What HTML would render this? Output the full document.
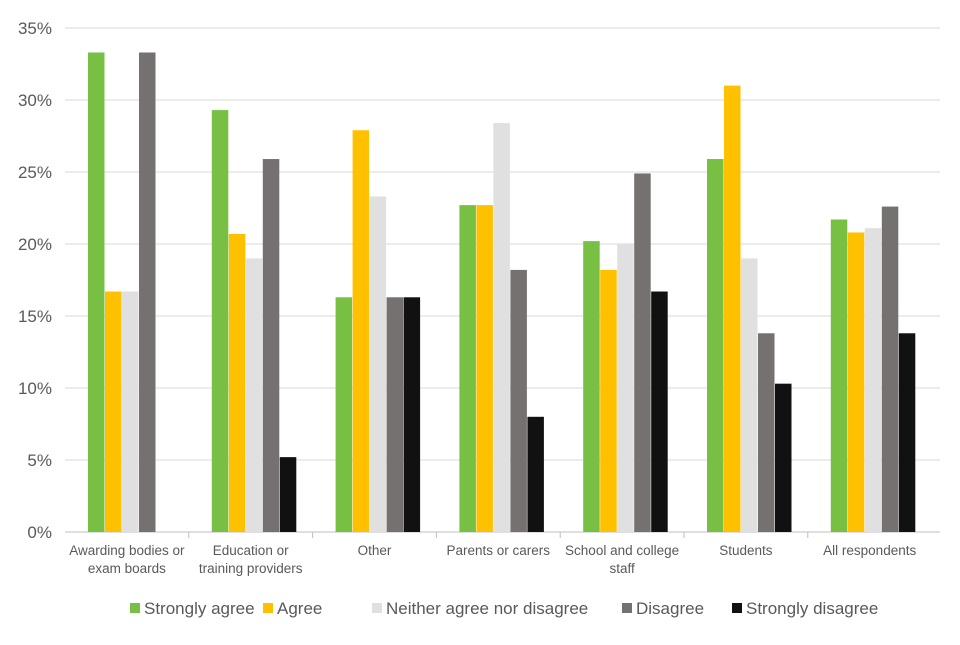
<!DOCTYPE html>
<html><head><meta charset="utf-8"><style>
body{margin:0;background:#fff;font-family:"Liberation Sans",Arial,sans-serif;}
svg text{font-family:"Liberation Sans",Arial,sans-serif;fill:#595959;}
</style></head><body>
<svg id="chart" width="960" height="640"></svg>
<script>
const categories=[["Awarding bodies or","exam boards"],["Education or","training providers"],["Other"],["Parents or carers"],["School and college","staff"],["Students"],["All respondents"]];
const seriesNames=["Strongly agree","Agree","Neither agree nor disagree","Disagree","Strongly disagree"];
const stronglyAgree=[33.3,29.3,16.3,22.7,20.2,25.9,21.7];
const agree=[16.7,20.7,27.9,22.7,18.2,31.0,20.8];
const neither=[16.7,19.0,23.3,28.4,20.0,19.0,21.1];
const disagree=[33.3,25.9,16.3,18.2,24.9,13.8,22.6];
const stronglyDisagree=[0,5.2,16.3,8.0,16.7,10.3,13.8];
const yTicks=[0,5,10,15,20,25,30,35];
const series=[stronglyAgree,agree,neither,disagree,stronglyDisagree];
const colors=["#77c043","#ffc000","#e0e0e0","#767171","#111111"];
const NS="http://www.w3.org/2000/svg";
const svg=document.getElementById('chart');
const X0=65,X1=940,Y0=532,Y1=28;
const y=v=>Y0-(v/35)*(Y0-Y1);
const gw=123.8;
const bw=17;
function mk(t,a){const e=document.createElementNS(NS,t);for(const k in a)e.setAttribute(k,a[k]);svg.appendChild(e);return e;}
yTicks.forEach(t=>{
  const l=mk('line',{x1:X0,x2:X1,y1:y(t),y2:y(t),stroke:t===0?'#bfbfbf':'#d9d9d9','stroke-width':1});
  
  
  const tx=mk('text',{x:52,y:y(t)+6,'text-anchor':'end','font-size':17});
  tx.textContent=t+'%';
  
  
});
categories.forEach((c,i)=>{
  const gx=X0+i*gw;
  if(i>0){const tk=mk('line',{x1:gx,x2:gx,y1:Y0,y2:Y0+6,stroke:'#bfbfbf'});
    
    }
  const start=gx+(gw-bw*5)/2+3.6;
  series.forEach((s,j)=>{
    const v=s[i];
    const r=mk('rect',{x:start+j*bw,y:y(v),width:bw-0.5,height:Y0-y(v),fill:colors[j]});
    
    
  });
  c.forEach((ln,k)=>{
    const t=mk('text',{x:gx+gw/2,y:555+k*18,'text-anchor':'middle','font-size':13.5});
    t.textContent=ln;
    
    
  });
});
const legX=[130,263,372,622,732];
seriesNames.forEach((n,j)=>{
  const r=mk('rect',{x:legX[j],y:603,width:10,height:10,fill:colors[j]});
  
  
  const t=mk('text',{x:legX[j]+14,y:614,'font-size':17});
  t.textContent=n;
  
  
});
</script>
</body></html>
